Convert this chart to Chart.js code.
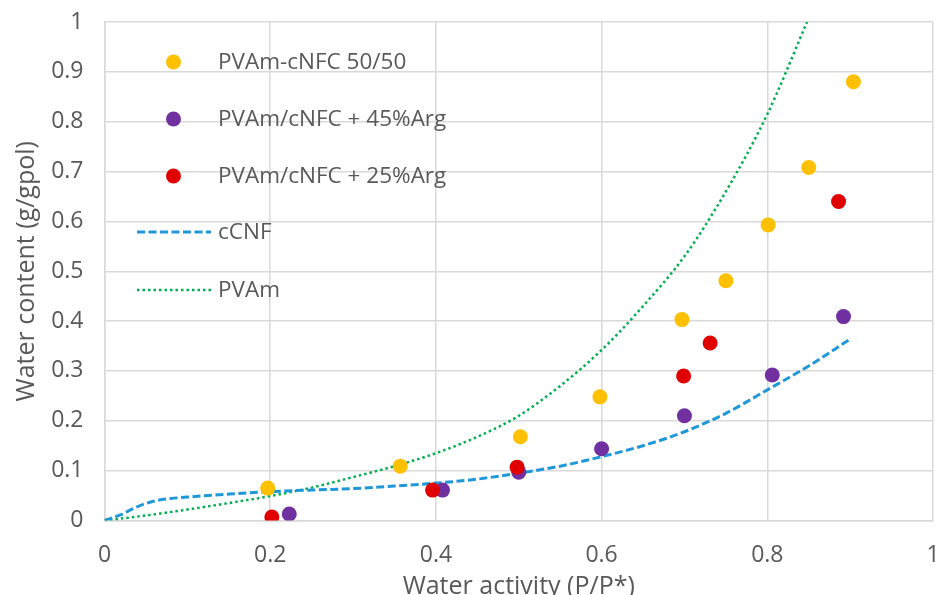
<!DOCTYPE html>
<html>
<head>
<meta charset="utf-8">
<script src="https://cdn.jsdelivr.net/npm/chart.js@4"></script>
<style>
html,body{margin:0;padding:0;background:#fff;}
#wrap{width:941px;height:595px;position:relative;}
</style>
</head>
<body>
<div id="wrap"><canvas id="c" width="941" height="595"></canvas></div>
<script>
// ---- Data ----
const seriesNames = ["PVAm-cNFC 50/50", "PVAm/cNFC + 45%Arg", "PVAm/cNFC + 25%Arg", "cCNF", "PVAm"];

const yellowX = [0.197, 0.357, 0.502, 0.598, 0.697, 0.750, 0.801, 0.850, 0.904];
const yellowY = [0.065, 0.109, 0.168, 0.248, 0.403, 0.481, 0.593, 0.708, 0.880];

const purpleX = [0.223, 0.408, 0.500, 0.600, 0.700, 0.806, 0.892];
const purpleY = [0.013, 0.061, 0.097, 0.144, 0.210, 0.292, 0.409];

const redX = [0.202, 0.396, 0.498, 0.699, 0.731, 0.886];
const redY = [0.007, 0.061, 0.107, 0.290, 0.356, 0.640];

const cCNFX = [0, 0.02, 0.04, 0.06, 0.08, 0.10, 0.15, 0.20, 0.25, 0.30, 0.35, 0.40, 0.45, 0.50, 0.55, 0.60, 0.65, 0.70, 0.75, 0.80, 0.85, 0.90];
const cCNFY = [0, 0.012, 0.028, 0.039, 0.044, 0.047, 0.053, 0.058, 0.061, 0.064, 0.069, 0.075, 0.083, 0.095, 0.109, 0.128, 0.150, 0.178, 0.215, 0.262, 0.310, 0.364];

const pvamX = [0, 0.05, 0.10, 0.15, 0.20, 0.25, 0.30, 0.35, 0.40, 0.45, 0.50, 0.55, 0.60, 0.65, 0.70, 0.75, 0.80, 0.848];
const pvamY = [0, 0.010, 0.022, 0.035, 0.049, 0.066, 0.087, 0.109, 0.135, 0.168, 0.210, 0.270, 0.342, 0.430, 0.530, 0.660, 0.815, 1.0];

const xTicks = [0, 0.2, 0.4, 0.6, 0.8, 1];
const yTicks = [0, 0.1, 0.2, 0.3, 0.4, 0.5, 0.6, 0.7, 0.8, 0.9, 1];

const xTitle = "Water activity (P/P*)";
const yTitle = "Water content (g/gpol)";

// ---- Build ----
const zip = (xs, ys) => xs.map((x, i) => ({x: x, y: ys[i]}));
const FONT = "'Open Sans', 'Liberation Sans', sans-serif";
const GREY = "#595959";

const colors = ["#FFC000", "#7030A0", "#E00000", "#1F98DA", "#00B050"];

const datasets = [
  {label: seriesNames[0], data: zip(yellowX, yellowY), type: 'scatter', backgroundColor: colors[0], borderColor: colors[0], pointRadius: 7.5, pointBorderWidth: 0, showLine: false, order: 1},
  {label: seriesNames[1], data: zip(purpleX, purpleY), type: 'scatter', backgroundColor: colors[1], borderColor: colors[1], pointRadius: 7.5, pointBorderWidth: 0, showLine: false, order: 1},
  {label: seriesNames[2], data: zip(redX, redY), type: 'scatter', backgroundColor: colors[2], borderColor: colors[2], pointRadius: 7.5, pointBorderWidth: 0, showLine: false, order: 0},
  {label: seriesNames[3], data: zip(cCNFX, cCNFY), type: 'line', borderColor: colors[3], borderWidth: 3, borderDash: [8, 3.5], pointRadius: 0, tension: 0.4, cubicInterpolationMode: 'monotone', fill: false, order: 2},
  {label: seriesNames[4], data: zip(pvamX, pvamY), type: 'line', borderColor: colors[4], borderWidth: 2.5, borderDash: [2.5, 3], pointRadius: 0, tension: 0.4, cubicInterpolationMode: 'monotone', fill: false, order: 2}
];

const legendPlugin = {
  id: 'insideLegend',
  afterDraw(chart) {
    const ctx = chart.ctx;
    const rows = [62, 119, 176, 232, 290];
    ctx.save();
    ctx.font = "22.5px " + FONT;
    ctx.textBaseline = 'middle';
    chart.data.datasets.forEach((ds, i) => {
      const y = rows[i];
      if (ds.type === 'scatter') {
        ctx.beginPath();
        ctx.fillStyle = ds.backgroundColor;
        ctx.arc(173.5, y, 7.5, 0, Math.PI * 2);
        ctx.fill();
      } else {
        ctx.beginPath();
        ctx.strokeStyle = ds.borderColor;
        ctx.lineWidth = ds.borderWidth;
        ctx.setLineDash(ds.borderDash);
        ctx.moveTo(137, y);
        ctx.lineTo(211, y);
        ctx.stroke();
        ctx.setLineDash([]);
      }
      ctx.fillStyle = GREY;
      ctx.fillText(ds.label, 218, y + 1);
    });
    ctx.restore();
  }
};

new Chart(document.getElementById('c'), {
  type: 'scatter',
  data: {datasets: datasets},
  plugins: [legendPlugin],
  options: {
    responsive: false,
    animation: false,
    devicePixelRatio: 1,
    layout: {padding: {top: 22, right: 8, left: 0, bottom: 0}},
    plugins: {legend: {display: false}, tooltip: {enabled: false}},
    scales: {
      x: {
        type: 'linear', min: 0, max: 1,
        afterBuildTicks: (s) => { s.ticks = xTicks.map(v => ({value: v})); },
        afterFit: (s) => { s.height = 74.5; s.paddingLeft = 0; s.paddingRight = 0; },
        grid: {color: '#D9D9D9', lineWidth: 1.5, drawTicks: false},
        border: {color: '#D9D9D9', width: 1.5},
        ticks: {color: GREY, font: {family: FONT, size: 23}, padding: 21, maxRotation: 0,
                callback: (v) => String(v)},
        title: {display: true, text: xTitle, color: GREY, font: {family: FONT, size: 25}, padding: {top: 0, bottom: -7}}
      },
      y: {
        type: 'linear', min: 0, max: 1,
        afterBuildTicks: (s) => { s.ticks = yTicks.map(v => ({value: v})); },
        afterFit: (s) => { s.width = 104.5; s.paddingTop = 0; s.paddingBottom = 0; },
        grid: {color: '#D9D9D9', lineWidth: 1.5, drawTicks: false},
        border: {color: '#D9D9D9', width: 1.5},
        ticks: {color: GREY, font: {family: FONT, size: 23}, padding: 21,
                callback: (v) => String(v)},
        title: {display: true, text: yTitle, color: GREY, font: {family: FONT, size: 25}, padding: {top: 12, bottom: 0}}
      }
    }
  }
});
</script>
</body>
</html>
